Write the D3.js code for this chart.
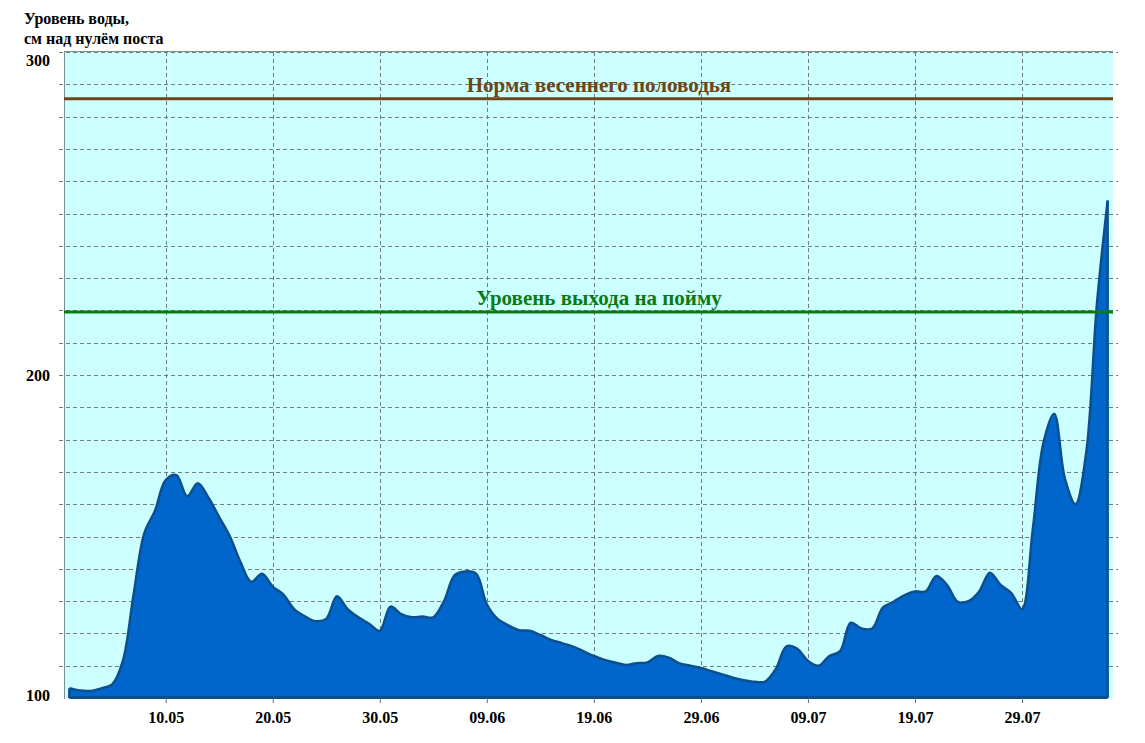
<!DOCTYPE html>
<html><head><meta charset="utf-8">
<script src="https://cdn.jsdelivr.net/npm/d3@7"></script>
<style>html,body{margin:0;padding:0;background:#fff;}svg{display:block;font-family:"Liberation Serif","Times New Roman",serif;}</style>
</head><body>
<svg id="chart" width="1145" height="743"></svg>
<script>
// Daily water level, 01.05 .. 06.08 (index 0 = 01.05)
const levels = [
  103, 102.3, 102.2, 103, 104.2, 111.5, 132, 151, 158, 167.5,
  169, 162.5, 166.5, 162, 156, 150, 142, 136, 138.5, 134.5,
  132, 127.5, 125.3, 123.8, 124.5, 131.5, 127.5, 125, 123, 120.8,
  128.3, 126, 125, 125.2, 125, 130, 138, 139.2, 138.5, 129,
  124.5, 122.5, 121, 120.8, 119.5, 118, 117, 116, 114.5, 113,
  111.8, 111, 110.2, 110.8, 111, 113, 112.5, 110.7, 110, 109.3,
  108.3, 107.3, 106.3, 105.5, 105, 105.1, 109, 116, 115.2, 111.5,
  110, 113, 114.5, 123.3, 121.5, 121.5, 128, 129.8, 131.8, 133,
  133, 137.8, 135, 129.8, 130, 133, 138.8, 135, 132.5, 127.5,
  152, 179, 188, 168, 160, 176, 222, 254
];
const xTickIdx = [9, 19, 29, 39, 49, 59, 69, 79, 89];
const xTickLabels = ["10.05", "20.05", "30.05", "09.06", "19.06", "29.06", "09.07", "19.07", "29.07"];
const yTicks = [100, 200, 300];
const yGridStep = 10;
const refLevels = [285.5, 219.5];
const refLabels = ["Норма весеннего половодья", "Уровень выхода на пойму"];
const refColors = ["#6e4514", "#0b7a12"];
const titleLines = ["Уровень воды,", "см над нулём поста"];

const svg = d3.select("#chart");
const L = 64, R = 1113, T = 52, B = 698;
const x = d3.scaleLinear().domain([-0.5, levels.length - 0.5]).range([L, R]);
const y = d3.scaleLinear().domain([100, 300]).range([B, T]);

// background
svg.append("rect").attr("x", L).attr("y", T - 1).attr("width", R - L).attr("height", B - T + 1).attr("fill", "#ccffff");

// horizontal dashed grid
const gridVals = d3.range(100 + yGridStep, 300 + 0.1, yGridStep);
svg.append("g").selectAll("line").data(gridVals).join("line")
  .attr("x1", L - 5).attr("x2", R + 5)
  .attr("y1", d => Math.round(y(d)) + 0.5).attr("y2", d => Math.round(y(d)) + 0.5)
  .attr("stroke", "#6f7f7f").attr("stroke-width", 1).attr("stroke-dasharray", "4,3");

// vertical dashed grid
svg.append("g").selectAll("line").data(xTickIdx).join("line")
  .attr("x1", d => Math.round(x(d)) + 0.5).attr("x2", d => Math.round(x(d)) + 0.5)
  .attr("y1", T).attr("y2", B)
  .attr("stroke", "#6f7f7f").attr("stroke-width", 1).attr("stroke-dasharray", "4,3");

// area
const curve = d3.curveCatmullRom.alpha(0.5);
const area = d3.area().x((d, i) => x(i)).y0(y(100)).y1(d => y(d)).curve(curve);
const line = d3.line().x((d, i) => x(i)).y(d => y(d)).curve(curve);
svg.append("path").datum(levels).attr("d", area).attr("fill", "#0066cc");
svg.append("path").datum(levels).attr("d", line).attr("fill", "none").attr("stroke", "#0d4f8e").attr("stroke-width", 2.5);
// left/right edges and baseline of area
svg.append("line").attr("x1", x(0)).attr("x2", x(0)).attr("y1", y(levels[0])).attr("y2", B).attr("stroke", "#0d4f8e").attr("stroke-width", 2.5);
svg.append("line").attr("x1", x(levels.length - 1)).attr("x2", x(levels.length - 1)).attr("y1", y(levels[levels.length - 1])).attr("y2", B).attr("stroke", "#0d4f8e").attr("stroke-width", 2.5);
svg.append("line").attr("x1", x(0)).attr("x2", x(levels.length - 1)).attr("y1", B - 0.5).attr("y2", B - 0.5).attr("stroke", "#0a4f8c").attr("stroke-width", 3);

// axes frame
svg.append("line").attr("x1", L + 0.5).attr("x2", L + 0.5).attr("y1", T - 1).attr("y2", B + 1).attr("stroke", "#7f8f8f").attr("stroke-width", 1);
svg.append("line").attr("x1", L).attr("x2", R).attr("y1", T - 0.5).attr("y2", T - 0.5).attr("stroke", "#7f8f8f").attr("stroke-width", 1);

// x ticks
const xAxis = d3.axisBottom(x).tickValues(xTickIdx).tickFormat((d, i) => xTickLabels[i]).tickSize(5).tickPadding(9);
const gx = svg.append("g").attr("transform", `translate(0,${B})`).call(xAxis);
gx.select(".domain").remove();
gx.selectAll(".tick line").attr("stroke", "#707070");
gx.selectAll("text").attr("font-family", "Liberation Serif").attr("font-weight", "bold").attr("font-size", 16).attr("fill", "#000");

// y labels (kept inside the plot's vertical extent)
const yAxis = d3.axisLeft(y).tickValues(yTicks).tickSize(0).tickPadding(14);
const gy = svg.append("g").attr("transform", `translate(${L},0)`).call(yAxis);
gy.select(".domain").remove();
gy.selectAll(".tick").attr("transform", d => `translate(0,${Math.max(T + 8, Math.min(B - 3, y(d)))})`);
gy.selectAll("text").attr("font-family", "Liberation Serif").attr("font-weight", "bold").attr("font-size", 16).attr("fill", "#000").attr("dy", "0.35em");

// reference lines
refLevels.forEach((v, i) => {
  svg.append("line").attr("x1", L).attr("x2", R).attr("y1", y(v)).attr("y2", y(v)).attr("stroke", refColors[i]).attr("stroke-width", 3);
  svg.append("text").attr("x", 599).attr("y", y(v) - 7).attr("text-anchor", "middle")
    .attr("font-family", "Liberation Serif").attr("font-weight", "bold").attr("font-size", 21)
    .attr("fill", refColors[i]).text(refLabels[i]);
});

// title
titleLines.forEach((t, i) => {
  svg.append("text").attr("x", 24).attr("y", 24 + i * 20).attr("font-family", "Liberation Serif").attr("font-weight", "bold").attr("font-size", 16).attr("fill", "#000").text(t);
});
</script>
</body></html>
